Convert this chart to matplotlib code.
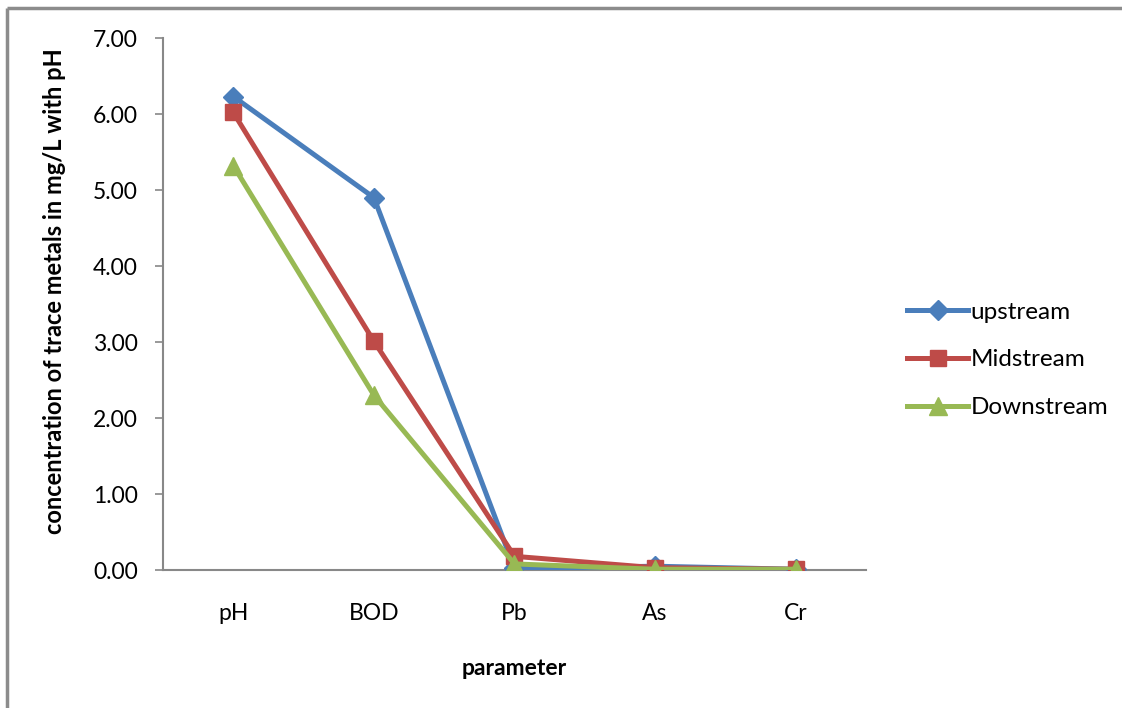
import numpy as np
import matplotlib.pyplot as plt
from matplotlib.lines import Line2D

plt.rcParams['font.family'] = ['Lato', 'DejaVu Sans']

params = ['pH', 'BOD', 'Pb', 'As', 'Cr']
upstream = [6.23, 4.90, 0.02, 0.05, 0.01]
midstream = [6.02, 3.01, 0.18, 0.03, 0.01]
downstream = [5.32, 2.30, 0.08, 0.01, 0.01]
yticks = np.arange(0, 7.01, 1.0)

fig = plt.figure(figsize=(11.22, 7.08), dpi=100)
ax = fig.add_axes([0.1453, 0.1949, 0.7718 - 0.1453, 0.9463 - 0.1949])

x = np.arange(len(params))
gray = '#888888'
ax.plot(x, upstream, color='#4A7EBB', lw=3.6, marker='D', ms=10.5, label='upstream')
ax.plot(x, midstream, color='#BE4B48', lw=3.6, marker='s', ms=12, label='Midstream')
ax.plot(x, downstream, color='#98B954', lw=3.6, marker='^', ms=13, label='Downstream')

ax.set_xlim(-0.5, len(params) - 0.5)
ax.set_ylim(0, 7)
ax.set_xticks(x)
ax.set_xticklabels(params, fontsize=16.5)
ax.set_yticks(yticks)
ax.set_yticklabels(['%.2f' % v for v in yticks], fontsize=16.5)
ax.tick_params(axis='x', length=0, pad=24)
ax.tick_params(axis='y', length=6, width=1.2, color=gray, pad=12)
for s in ['top', 'right']:
    ax.spines[s].set_visible(False)
for s in ['left', 'bottom']:
    ax.spines[s].set_color(gray)
    ax.spines[s].set_linewidth(1.5)
ax.spines['bottom'].set_zorder(0)

ax.set_xlabel('parameter', fontsize=16.5, fontweight='bold', labelpad=24)
ax.set_ylabel('concentration of trace metals in mg/L with pH', fontsize=17,
              fontweight='bold')
ax.yaxis.set_label_coords(-0.138, 0.524)

ax.legend(loc='center left', bbox_to_anchor=(1.045, 0.395), frameon=False,
          fontsize=17.5, handlelength=2.5, handletextpad=0.1, labelspacing=1.1,
          borderaxespad=0)

# outer chart border (only top and left visible in the crop)
fig.add_artist(Line2D([7 / 1122, 1], [1 - 8 / 708, 1 - 8 / 708], color='#8c8c8c',
                      lw=2.5, solid_capstyle='butt'))
fig.add_artist(Line2D([7 / 1122, 7 / 1122], [0, 1 - 8 / 708], color='#8c8c8c',
                      lw=2.5, solid_capstyle='butt'))

fig.savefig('out.png', dpi=100)
